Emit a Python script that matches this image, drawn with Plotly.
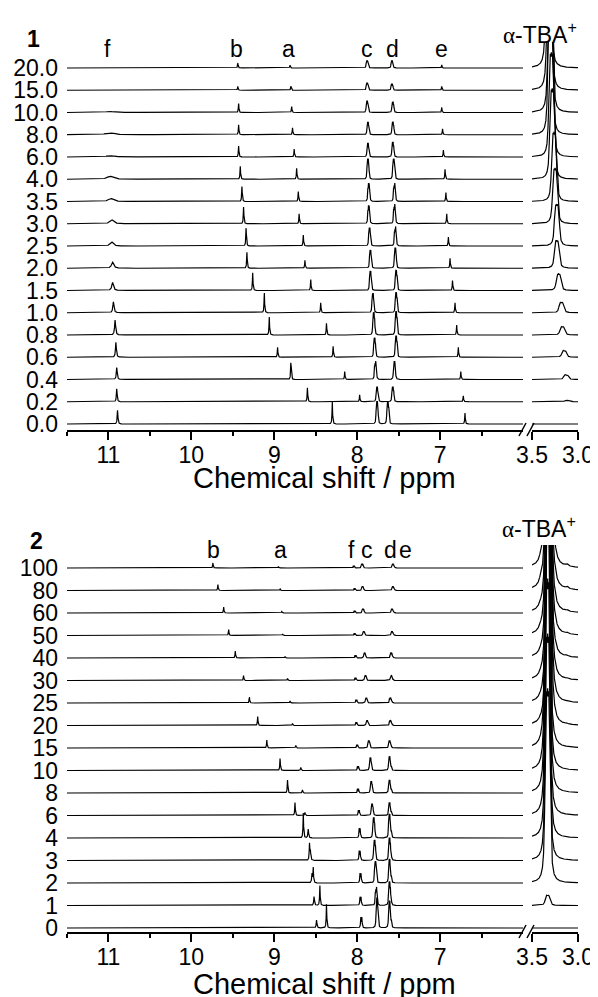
import numpy as np
import plotly.graph_objects as go

# ---------------- Panel 1 (rows listed bottom -> top) ----------------
conc1 = ["0.0", "0.2", "0.4", "0.6", "0.8", "1.0", "1.5", "2.0", "2.5", "3.0",
         "3.5", "4.0", "6.0", "8.0", "10.0", "15.0", "20.0"]
f1_ppm = [10.89, 10.90, 10.90, 10.91, 10.92, 10.94, 10.95, 10.95, 10.96, 10.96,
          10.97, 10.98, 10.98, 10.98, 10.99, 11.00, 11.01]
f1_h = [14, 13, 12, 15, 15, 11, 8, 6, 4, 4, 3, 3, 1.5, 2, 1, 0.7, 0.4]
f1_w = [0.005, 0.005, 0.006, 0.006, 0.007, 0.008, 0.012, 0.016, 0.022, 0.026,
        0.035, 0.040, 0.050, 0.060, 0.060, 0.060, 0.060]
b1_ppm = [8.30, 8.60, 8.80, 8.96, 9.06, 9.12, 9.26, 9.33, 9.34, 9.37,
          9.39, 9.41, 9.43, 9.43, 9.43, 9.44, 9.44]
b1_h = [14, 14, 17, 10, 18, 20, 18, 16, 18, 17, 15, 13, 11, 10, 9, 4, 5]
a1_ppm = [8.30, 7.97, 8.15, 8.29, 8.37, 8.44, 8.56, 8.63, 8.65, 8.70,
          8.71, 8.73, 8.76, 8.78, 8.79, 8.80, 8.81]
a1_h = [8, 7, 8, 11, 12, 10, 11, 8, 11, 10, 10, 11, 8, 7, 6, 4, 3]
c1_ppm = [7.76, 7.76, 7.78, 7.79, 7.80, 7.81, 7.84, 7.84, 7.85, 7.86,
          7.86, 7.87, 7.87, 7.87, 7.88, 7.88, 7.88]
c1_h = [21, 14, 17, 18, 21, 18, 18, 17, 17, 17, 17, 19, 13, 12, 11, 7, 7]
d1_ppm = [7.63, 7.57, 7.55, 7.53, 7.53, 7.53, 7.53, 7.54, 7.54, 7.55,
          7.55, 7.56, 7.57, 7.57, 7.57, 7.58, 7.58]
d1_h = [21, 14, 17, 20, 22, 19, 19, 19, 18, 18, 17, 19, 14, 12, 10, 6, 7]
e1_ppm = [6.70, 6.72, 6.75, 6.78, 6.80, 6.82, 6.85, 6.88, 6.90, 6.92,
          6.93, 6.94, 6.96, 6.97, 6.98, 6.98, 6.98]
e1_h = [11, 6, 8, 10, 10, 10, 10, 10, 9, 10, 9, 10, 7, 6, 5, 4, 3]
tba1_ppm = [3.12, 3.12, 3.13, 3.15, 3.17, 3.18, 3.21, 3.23, 3.23, 3.25,
            3.26, 3.28, 3.29, 3.30, 3.30, 3.31, 3.32]
tba1_h = [0, 2, 7, 10, 12, 15, 24, 40, 60, 80, 100, 130, 150, 180, 200, 220, 250]

# ---------------- Panel 2 (rows listed bottom -> top) ----------------
conc2 = ["0", "1", "2", "3", "4", "6", "8", "10", "15", "20", "25", "30",
         "40", "50", "60", "80", "100"]
b2_ppm = [8.37, 8.45, 8.53, 8.575, 8.65, 8.75, 8.84, 8.93, 9.09, 9.20, 9.30,
          9.37, 9.47, 9.55, 9.61, 9.68, 9.74]
b2_h = [24, 20, 15, 16, 25, 13, 13, 12, 8, 9, 6, 5, 7, 6, 6, 6, 5]
a2_ppm = [8.49, 8.52, 8.545, 8.565, 8.59, 8.63, 8.66, 8.68, 8.74, 8.78, 8.81,
          8.84, 8.87, 8.90, 8.91, 8.93, 8.95]
a2_h = [8, 9, 9, 9, 9, 3, 3, 3, 2.5, 2, 2, 2, 1.5, 1.5, 1.5, 1.5, 1.5]
f2_ppm = [7.95, 7.96, 7.96, 7.97, 7.97, 7.98, 7.99, 7.99, 8.00, 8.01, 8.01,
          8.02, 8.02, 8.03, 8.03, 8.03, 8.04]
f2_h = [10, 8, 9, 9, 9, 5, 4, 4, 3, 3, 3, 2.5, 2.5, 2, 2, 2, 2]
c2_ppm = [7.76, 7.77, 7.78, 7.79, 7.80, 7.82, 7.83, 7.84, 7.86, 7.88, 7.89,
          7.90, 7.91, 7.92, 7.93, 7.935, 7.94]
c2_h = [28, 17, 20, 19, 19, 11, 11, 12, 7, 5, 5, 5, 5, 4, 4, 4, 4]
de2_ppm = [7.61, 7.61, 7.61, 7.61, 7.61, 7.61, 7.61, 7.61, 7.61, 7.60, 7.60,
           7.59, 7.59, 7.58, 7.58, 7.57, 7.57]
de2_h = [25, 22, 22, 21, 22, 12, 12, 13, 7, 5, 5, 5, 5, 4, 4, 4, 4]
tba2_ppm = [3.33, 3.33, 3.33, 3.33, 3.33, 3.33, 3.33, 3.33, 3.33, 3.32, 3.32,
            3.32, 3.32, 3.32, 3.32, 3.32, 3.32]
tba2_h = [0, 16, 300, 350, 400, 450, 500, 500, 550, 550, 600, 600, 600, 650,
          650, 700, 700]
tba2_sat = [0, 0, 0, 0, 0, 0, 0, 0, 0, 1, 1, 1.5, 1.5, 2, 2, 3, 3]

# axis tick values / labels
main_ticks = [11, 10, 9, 8, 7]
main_labels = ["11", "10", "9", "8", "7"]
main_minor = [11.5, 10.5, 9.5, 8.5, 7.5, 6.5]
tba_ticks = [3.5, 3.0]
tba_labels = ["3.5", "3.0"]

# the page body has an 8 px margin, so the figure is drawn 8 px in from the corner
OFF = 8
W, H = 598 - OFF, 997 - OFF
xm = np.arange(6.0, 11.5 + 1e-9, 0.0011)[::-1]
xt = np.arange(3.0, 3.5 + 1e-9, 0.0008)[::-1]

MULT4 = ([-0.011, -0.0037, 0.0037, 0.011], [0.75, 1, 1, 0.75])
TBA_M = ([-0.024, -0.012, 0, 0.012, 0.024], [0.8, 1, 0.9, 1, 0.8])


def lor(x, c, h, w):
    return h * w * w / ((x - c) ** 2 + w * w)


def mult(x, c, h, w, offs, wts):
    return sum(lor(x, c + o, h * k, w) for o, k in zip(offs, wts))


def fx(X):
    return (X - OFF) / W


def fy(Y):
    return 1 - (Y - OFF) / H


fig = go.Figure()
line = dict(color="black", width=1.2)

# panel 1
sp1, off1 = 22.25, 6.0
for i in range(len(conc1)):
    base = off1 + sp1 * i
    y = (lor(xm, f1_ppm[i], f1_h[i], f1_w[i])
         + lor(xm, b1_ppm[i], b1_h[i], 0.004)
         + lor(xm, a1_ppm[i], a1_h[i], 0.004)
         + mult(xm, c1_ppm[i], c1_h[i] / 1.25, 0.0035, *MULT4)
         + mult(xm, d1_ppm[i], d1_h[i] / 1.25, 0.0035, *MULT4)
         + lor(xm, e1_ppm[i], e1_h[i], 0.004))
    fig.add_trace(go.Scatter(x=xm, y=np.round(base + y, 2), mode="lines", line=line,
                             xaxis="x", yaxis="y", hoverinfo="skip", showlegend=False))
    yt = mult(xt, tba1_ppm[i], tba1_h[i], 0.009, *TBA_M) / 2.6
    fig.add_trace(go.Scatter(x=xt, y=np.round(base + yt, 2), mode="lines", line=line,
                             xaxis="x2", yaxis="y", hoverinfo="skip", showlegend=False))

# panel 2
sp2, off2 = 22.5, 4.0
for i in range(len(conc2)):
    base = off2 + sp2 * i
    y = (lor(xm, b2_ppm[i], b2_h[i], 0.004)
         + lor(xm, a2_ppm[i], a2_h[i], 0.005)
         + mult(xm, f2_ppm[i], f2_h[i], 0.004, [-0.006, 0.006], [1, 1])
         + mult(xm, c2_ppm[i], c2_h[i] / 1.25, 0.0035, *MULT4)
         + mult(xm, de2_ppm[i], de2_h[i] / 1.25, 0.0035,
                [0.011, 0.0037, -0.0037, -0.011, -0.022], [0.75, 1, 1, 0.75, 0.3]))
    fig.add_trace(go.Scatter(x=xm, y=np.round(base + y, 2), mode="lines", line=line,
                             xaxis="x3", yaxis="y2", hoverinfo="skip", showlegend=False))
    yt = (mult(xt, tba2_ppm[i], tba2_h[i], 0.009, *TBA_M) / 2.8
          + lor(xt, 3.41, tba2_sat[i], 0.015)
          + lor(xt, 3.25, tba2_sat[i] * 1.3, 0.015)
          + lor(xt, 3.12, tba2_sat[i] * 0.7, 0.015))
    fig.add_trace(go.Scatter(x=xt, y=np.round(base + yt, 2), mode="lines", line=line,
                             xaxis="x4", yaxis="y2", hoverinfo="skip", showlegend=False))

FONT = "Liberation Sans, Arial, sans-serif"
tickfont = dict(family=FONT, size=23, color="black")
dm = [fx(67), fx(523)]
dt = [fx(532), fx(578)]


def xax(dom, rng, tv, tt, anchor, minor=None):
    d = dict(domain=dom, range=rng, anchor=anchor, showgrid=False, zeroline=False,
             showline=True, linecolor="black", linewidth=1.5, automargin=False,
             tickmode="array", tickvals=tv, ticktext=tt,
             ticks="outside", ticklen=8, tickwidth=1.5, tickcolor="black",
             tickfont=tickfont, ticklabelstandoff=-4, fixedrange=True)
    if minor is not None:
        d["minor"] = dict(tickmode="array", tickvals=minor, ticks="outside", ticklen=4,
                          tickwidth=1.5, tickcolor="black")
    return d


def yax(dom, rng, tv, tt, anchor):
    return dict(domain=dom, range=rng, anchor=anchor, showgrid=False, zeroline=False,
                showline=False, tickmode="array", tickvals=tv, ticktext=tt, ticks="",
                tickfont=tickfont, ticklabelstandoff=8, automargin=False,
                fixedrange=True)


tv1 = [off1 + sp1 * i for i in range(len(conc1))]
tv2 = [off2 + sp2 * i for i in range(len(conc2))]

fig.update_layout(
    width=W, height=H, margin=dict(l=0, r=0, t=0, b=0, autoexpand=False),
    paper_bgcolor="white", plot_bgcolor="white", showlegend=False,
    xaxis=xax(dm, [11.5, 6.0], main_ticks, main_labels, "y", main_minor),
    xaxis2=xax(dt, [3.5, 3.0], tba_ticks, tba_labels, "y"),
    xaxis3=xax(dm, [11.5, 6.0], main_ticks, main_labels, "y2", main_minor),
    xaxis4=xax(dt, [3.5, 3.0], tba_ticks, tba_labels, "y2"),
    yaxis=yax([fy(430), fy(42)], [0, 388], tv1, conc1, "x"),
    yaxis2=yax([fy(932), fy(545)], [0, 387], tv2, conc2, "x3"),
)

anns = []


def ann(text, X, Y, size, bold=False, family=FONT):
    if bold:
        text = "<b>" + text + "</b>"
    anns.append(dict(text=text, x=fx(X), y=fy(Y), xref="paper", yref="paper",
                     xanchor="center", yanchor="middle", showarrow=False,
                     font=dict(family=family, size=size, color="black")))


tba_txt = "<span style='font-family:Liberation Serif'>α</span>-TBA<sup>+</sup>"
# panel 1 labels
ann("1", 33, 39, 23, bold=True)
for t, X in [("f", 107), ("b", 236), ("a", 288), ("c", 367), ("d", 392), ("e", 442)]:
    ann(t, X, 49, 23)
ann(tba_txt, 540, 33, 23)
ann("Chemical shift / ppm", 324, 478, 29)
# panel 2 labels
ann("2", 36, 541, 23, bold=True)
for t, X in [("b", 213), ("a", 280), ("f", 351), ("c", 367), ("d", 390), ("e", 405)]:
    ann(t, X, 550, 23)
ann(tba_txt, 539, 527, 23)
ann("Chemical shift / ppm", 324, 984, 29)
fig.update_layout(annotations=anns)

# axis-break marks
shapes = []
for yb in (430, 932):
    for x0 in (519, 527):
        shapes.append(dict(type="line", xref="paper", yref="paper",
                           x0=fx(x0), y0=fy(yb + 6), x1=fx(x0 + 7), y1=fy(yb - 7),
                           line=dict(color="black", width=1.5)))
fig.update_layout(shapes=shapes)

fig.write_html("out.html")
